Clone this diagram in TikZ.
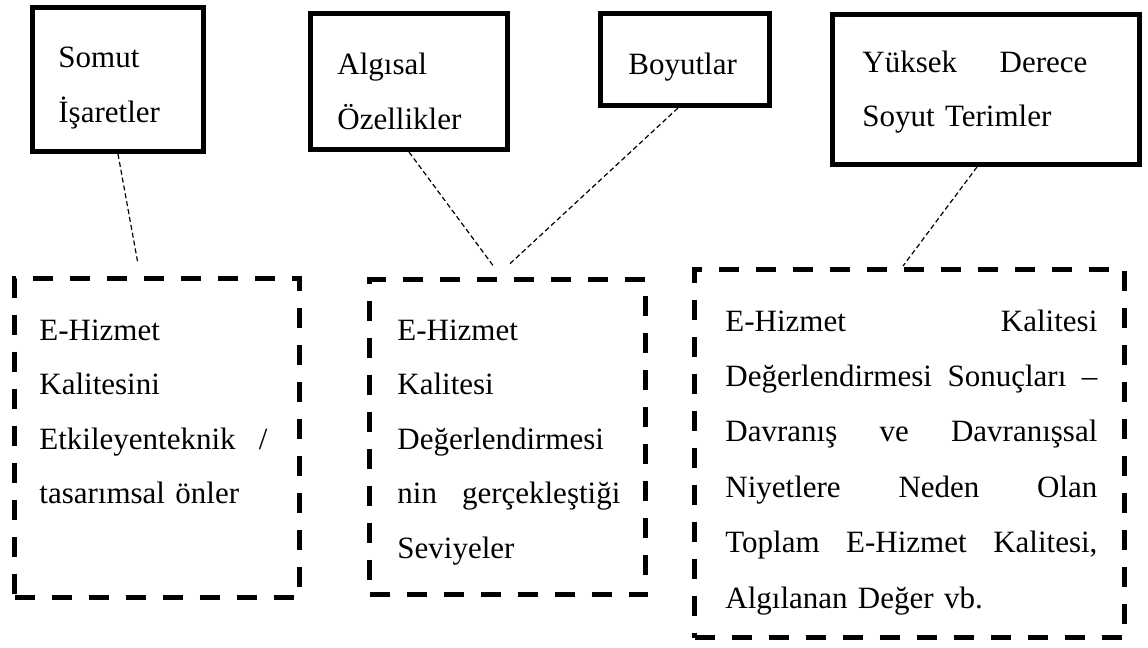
\documentclass[tikz,border=0pt]{standalone}
\usepackage{fontspec}
\setmainfont{Liberation Serif}
\begin{document}
\begin{tikzpicture}[
  x=0.5pt, y=-0.5pt,
  solidbox/.style={draw=black, line width=2.5pt, fill=white, rectangle, inner sep=0pt},
  dashbox/.style={draw=black, line width=2.5pt, rectangle, inner sep=0pt,
                  dash pattern=on 10pt off 8.5pt},
  link/.style={draw=black, line width=0.6pt, dash pattern=on 2.5pt off 1.5pt},
  label/.style={anchor=base west, inner sep=0pt, align=left,
                font=\fontsize{15.5pt}{27.3pt}\selectfont}
]
\useasboundingbox (0,0) rectangle (1148,648);

% upper boxes (solid frames)
\node[solidbox, minimum width=85.5pt,  minimum height=72pt] (somut)  at (118,79.5) {};
\node[solidbox, minimum width=98.5pt,  minimum height=68pt] (algi)   at (409,81.5) {};
\node[solidbox, minimum width=84.5pt,  minimum height=46pt] (boyut)  at (685,59.5) {};
\node[solidbox, minimum width=153.5pt, minimum height=75pt] (yuksek) at (986,89.5) {};

% lower boxes (dashed frames)
\node[dashbox, minimum width=142.5pt, minimum height=159.5pt] (teknik)  at (157,438)   {};
\node[dashbox, minimum width=138pt,   minimum height=157.5pt] (seviye)  at (507.5,437) {};
\node[dashbox, minimum width=215pt,   minimum height=184pt]   (sonuc)   at (909.5,453.5) {};

% thin dashed connectors
\path[link] (somut.south) -- ([xshift=-9.5pt,yshift=6pt]teknik.north);
\path[link] (algi.south) -- ([xshift=-7.25pt,yshift=5.75pt]seviye.north);
\path[link] ([xshift=-3.5pt]boyut.south) -- ([xshift=0.25pt,yshift=5.75pt]seviye.north);
\path[link] ([xshift=-4.5pt]yuksek.south) -- ([xshift=-3.25pt,yshift=0.5pt]sonuc.north);

% texts of the upper boxes
\node[label, text width=80pt] (tsomut) at (58,68) {Somut\\İşaretler};
\node[label, text width=80pt] (talgi) at (337,75) {Algısal\\Özellikler};
\node[label, text width=70pt] (tboyut) at (628,75) {Boyutlar};
\node[label, text width=112.5pt] (tyuksek) at (862,72) {Yüksek\hfill Derece\\Soyut Terimler};

% texts of the lower boxes
\node[label, text width=114pt] (tteknik) at (39,340)
  {E-Hizmet\\Kalitesini\\Etkileyenteknik\hfill /\\tasarımsal önler};
\node[label, text width=111.5pt] (tseviye) at (397,340)
  {E-Hizmet\\Kalitesi\\Değerlendirmesi\\nin\hfill gerçekleştiği\\Seviyeler};
\node[label, text width=186pt, font=\fontsize{15.5pt}{27.7pt}\selectfont] (tsonuc) at (725,331)
  {E-Hizmet\hfill Kalitesi\\
   Değerlendirmesi\hfill Sonuçları\hfill –\\
   Davranış\hfill ve\hfill Davranışsal\\
   Niyetlere\hfill Neden\hfill Olan\\
   Toplam\hfill E-Hizmet\hfill Kalitesi,\\
   Algılanan Değer vb.};
\end{tikzpicture}
\end{document}
